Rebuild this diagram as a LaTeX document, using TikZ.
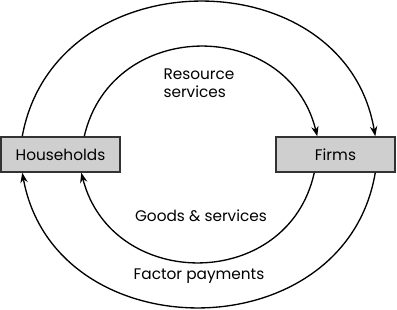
\documentclass[tikz,border=0pt]{standalone}
\usepackage{fontspec}
\setmainfont{Poppins}
\usetikzlibrary{arrows.meta,calc}
\begin{document}
\begin{tikzpicture}[x=0.75pt,y=-0.75pt,
  box/.style={draw=black!80,line width=1.1pt,fill=black!19,minimum width=89.25pt,minimum height=26.25pt,inner sep=0pt,font=\fontsize{11.5}{13}\selectfont},
  flow/.style={line width=1pt,-{Stealth[length=7.5pt,width=5.5pt]}},
  lbl/.style={font=\fontsize{11.5}{13.5}\selectfont,inner sep=0pt}]
\useasboundingbox (0,0) rectangle (397,310);
\node[box] (hh) at (60.5,154.5) {Households};
\node[box] (firms) at (335.5,154.5) {Firms};
\draw[flow] ($(hh.north west)+(22,0)$) .. controls (55,-43) and (345,-43) .. ($(firms.north west)+(100,0)$);
\draw[flow] ($(hh.north west)+(84,0)$) .. controls (112,17) and (288,17) .. ($(firms.north west)+(42,0)$);
\draw[flow] ($(firms.south west)+(39,0)$) .. controls (288,292) and (112,292) .. ($(hh.south west)+(81,0)$);
\draw[flow] ($(firms.south west)+(100,0)$) .. controls (345,352) and (55,352) .. ($(hh.south west)+(22,0)$);
\node[lbl,align=left] (rs) at (199,83) {Resource\\services};
\node[lbl] (gs) at (201,216) {Goods \& services};
\node[lbl] (fp) at (199,276) {Factor payments};
\end{tikzpicture}
\end{document}
